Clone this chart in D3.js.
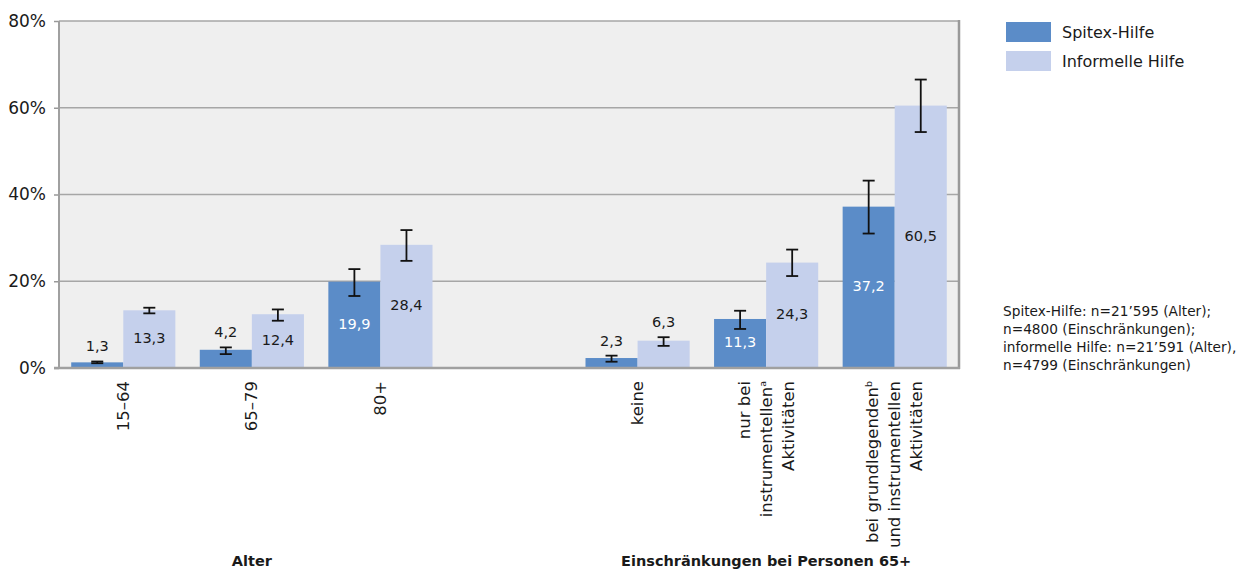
<!DOCTYPE html>
<html><head><meta charset="utf-8">
<script src="https://cdn.jsdelivr.net/npm/d3@7"></script>
<style>body{margin:0;background:#fff;} text{font-family:"DejaVu Sans",sans-serif;fill:#1a1a1a;}</style>
</head><body><svg id="c" width="1245" height="572"></svg>
<script>
// ---- data ----
const slots = ["15–64","65–79","80+","gap","keine","nur","bei"];
const categoryLines = [["15–64"],["65–79"],["80+"],[],["keine"],["nur bei","instrumentellen^a","Aktivitäten"],["bei grundlegenden^b","und instrumentellen","Aktivitäten"]];
const seriesNames = ["Spitex-Hilfe","Informelle Hilfe"];
const spitex   = [1.3, 4.2, 19.9, null, 2.3, 11.3, 37.2];
const spitexLo = [1.1, 3.2, 16.6, null, 1.45, 9.0, 31.0];
const spitexHi = [1.5, 4.75, 22.8, null, 2.85, 13.2, 43.2];
const informell   = [13.3, 12.4, 28.4, null, 6.3, 24.3, 60.5];
const informellLo = [12.6, 10.9, 24.7, null, 5.1, 21.2, 54.4];
const informellHi = [13.9, 13.5, 31.8, null, 7.1, 27.3, 66.5];
const yTicks = [0, 20, 40, 60, 80];
const groups = [{label:"Alter", at:"65–79"},{label:"Einschränkungen bei Personen 65+", at:"nur"}];
const notes = ["Spitex-Hilfe: n=21’595 (Alter);","n=4800 (Einschränkungen);","informelle Hilfe: n=21’591 (Alter),","n=4799 (Einschränkungen)"];
const colors = ["#5b8cc8","#c5d0ec"];
const labelColors = ["#ffffff","#1a1a1a"];

const svg = d3.select("#c");
const L=59, R=959, T=21, B=368;
const x0 = d3.scaleBand().domain(slots).range([L,R]).paddingInner(0.19).paddingOuter(0.095);
const x1 = d3.scaleBand().domain([0,1]).range([0,x0.bandwidth()]);
const y = d3.scaleLinear().domain([0,80]).range([B,T]);

svg.append("rect").attr("x",L).attr("y",T).attr("width",R-L).attr("height",B-T).attr("fill","#efefef");
// gridlines
svg.append("g").selectAll("line").data(yTicks.filter(d=>d>0)).join("line")
  .attr("x1",L).attr("x2",R).attr("y1",d=>y(d)).attr("y2",d=>y(d))
  .attr("stroke","#a6a6a6").attr("stroke-width",1.5);
// y axis
const ya = svg.append("g").attr("transform",`translate(${L},0)`)
  .call(d3.axisLeft(y).tickValues(yTicks).tickFormat(d=>d+"%").tickSize(5).tickPadding(8));
ya.select(".domain").remove();
ya.selectAll("line").attr("stroke","#999").attr("stroke-width",1.5);
ya.selectAll("text").style("font-size","17px").style("font-family","DejaVu Sans").attr("fill","#1a1a1a");
// bars
const series = [
  {vals:spitex, lo:spitexLo, hi:spitexHi},
  {vals:informell, lo:informellLo, hi:informellHi}
];
series.forEach((s,si)=>{
  const data = slots.map((k,i)=>({k,v:s.vals[i],lo:s.lo[i],hi:s.hi[i]})).filter(d=>d.v!=null);
  const g = svg.append("g");
  g.selectAll("rect").data(data).join("rect")
    .attr("x",d=>x0(d.k)+x1(si)).attr("width",x1.bandwidth())
    .attr("y",d=>y(d.v)).attr("height",d=>y(0)-y(d.v)).attr("fill",colors[si]);
  const cx = d=>x0(d.k)+x1(si)+x1.bandwidth()/2;
  g.selectAll("line.v").data(data).join("line").attr("class","v")
    .attr("x1",cx).attr("x2",cx).attr("y1",d=>y(d.lo)).attr("y2",d=>y(d.hi)).attr("stroke","#111").attr("stroke-width",1.8);
  ["lo","hi"].forEach(key=>{
    g.selectAll("line."+key).data(data).join("line").attr("class",key)
      .attr("x1",d=>cx(d)-6).attr("x2",d=>cx(d)+6).attr("y1",d=>y(d[key])).attr("y2",d=>y(d[key])).attr("stroke","#111").attr("stroke-width",1.8);
  });
  g.selectAll("text").data(data).join("text")
    .attr("x",cx)
    .attr("y",d=>{ const small = y(0)-y(d.v) < 45; return small ? y(d.hi)-10 : (y(d.v)+y(0))/2+4; })
    .attr("text-anchor","middle").style("font-size","14.5px")
    .style("fill",d=> (y(0)-y(d.v) < 45) ? "#1a1a1a" : labelColors[si])
    .text(d=>String(d.v).replace(".",","));
});
// frame
svg.append("line").attr("x1",L).attr("x2",L).attr("y1",T).attr("y2",B).attr("stroke","#a0a0a0").attr("stroke-width",2);
svg.append("line").attr("x1",R).attr("x2",R).attr("y1",T-1).attr("y2",B+1).attr("stroke","#999").attr("stroke-width",2.5);
svg.append("line").attr("x1",L-5).attr("x2",R+1).attr("y1",B).attr("y2",B).attr("stroke","#a0a0a0").attr("stroke-width",2.5);
// category labels
slots.forEach((k,i)=>{
  const lines = categoryLines[i];
  if(!lines.length) return;
  const cx = x0(k)+x0.bandwidth()/2;
  const lh = 22;
  const t = svg.append("text").attr("transform",`translate(${cx},381) rotate(-90)`)
    .attr("text-anchor","end").style("font-size","16.5px");
  lines.forEach((ln,j)=>{
    const off = (j-(lines.length-1)/2)*lh + 5.5;
    const parts = ln.split("^");
    t.append("tspan").attr("x",0).attr("y",off).text(parts[0]);
    if(parts[1]) t.append("tspan").attr("dy",-6).style("font-size","9.5px").text(parts[1]);
  });
});
// group labels
groups.forEach(g=>{
  svg.append("text").attr("x",x0(g.at)+x0.bandwidth()/2).attr("y",566).attr("text-anchor","middle")
    .style("font-size","14.5px").style("font-weight","bold").text(g.label);
});
// legend
seriesNames.forEach((n,i)=>{
  svg.append("rect").attr("x",1006).attr("y",22+i*29).attr("width",45).attr("height",20).attr("fill",colors[i]);
  svg.append("text").attr("x",1062).attr("y",38+i*29).style("font-size","16px").text(n);
});
// notes
notes.forEach((n,i)=>{
  svg.append("text").attr("x",1003).attr("y",316+i*18).style("font-size","13.7px").text(n);
});
</script></body></html>
